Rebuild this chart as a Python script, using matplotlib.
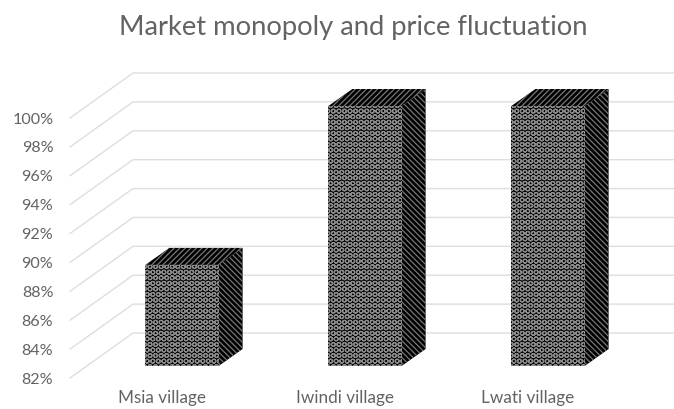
import matplotlib
matplotlib.use('Agg')
import matplotlib.pyplot as plt
from matplotlib.patches import Polygon
from matplotlib.transforms import Affine2D

# Data
villages = ['Msia village', 'Iwindi village', 'Lwati village']
values = [89, 100, 100]
y_ticks = [82, 84, 86, 88, 90, 92, 94, 96, 98, 100]
y_labels = ['82%', '84%', '86%', '88%', '90%', '92%', '94%', '96%', '98%', '100%']

W, H = 674, 409
grey = '#636363'
plt.rcParams['font.family'] = ['Lato', 'DejaVu Sans']
plt.rcParams['hatch.linewidth'] = 0.9

fig = plt.figure(figsize=(W / 100, H / 100), dpi=100)
ax = fig.add_axes([70 / W, (H - 378) / H, (W - 70) / W, 260 / H])
ax.set_ylim(82, 100)
ax.set_xlim((70 - 182) / 183, (W - 182) / 183)
for s in ax.spines.values():
    s.set_visible(False)

# 3D wall offsets in pixels
wall_dx, wall_dy = 63, 45
floor_dy = 12
depth_dx, depth_dy = 24, 17
bar_w = 0.4


def px(x, y):
    return ax.transData.transform((x, y))


# gridlines: floor/side diagonal then along the back wall
for t in y_ticks:
    x0, y0 = px(ax.get_xlim()[0], t)
    ax.add_line(plt.Line2D([x0, x0 + wall_dx, W], [y0, y0 + wall_dy, y0 + wall_dy],
                           transform=Affine2D(), color='#dedede', lw=1.0, zorder=1,
                           clip_on=False))

# bars
for i, v in enumerate(values):
    x0, y0 = px(i - bar_w / 2, 82)
    x1, y1 = px(i + bar_w / 2, v)
    y0 += floor_dy
    h = y1 - px(i, 82)[1]
    y1 = y0 + h
    front = [(x0, y0), (x1, y0), (x1, y1), (x0, y1)]
    side = [(x1, y0), (x1 + depth_dx, y0 + depth_dy), (x1 + depth_dx, y1 + depth_dy), (x1, y1)]
    top = [(x0, y1), (x1, y1), (x1 + depth_dx, y1 + depth_dy), (x0 + depth_dx, y1 + depth_dy)]
    ax.add_patch(Polygon(side, transform=Affine2D(), facecolor='black', edgecolor='#777777',
                         hatch='\\' * 6, lw=0, zorder=3, clip_on=False))
    ax.add_patch(Polygon(top, transform=Affine2D(), facecolor='black', edgecolor='#777777',
                         hatch='/' * 6, lw=0, zorder=3, clip_on=False))
    ax.add_patch(Polygon(front, transform=Affine2D(), facecolor='black', edgecolor='#8a8a8a',
                         hatch='O' * 3, lw=0, zorder=4, clip_on=False))

ax.set_yticks(y_ticks)
ax.set_yticklabels(y_labels, fontsize=11.6, color=grey)
ax.set_xticks([i - 20 / 183 for i in range(len(villages))])
ax.set_xticklabels(villages, fontsize=12.3, color=grey)
ax.tick_params(axis='y', length=0, pad=12)
ax.tick_params(axis='x', length=0, pad=9)

fig.text(353 / W, (H - 27) / H, 'Market monopoly and price fluctuation', fontsize=19.7,
         color=grey, ha='center', va='center')

fig.savefig('out.png', dpi=100)
